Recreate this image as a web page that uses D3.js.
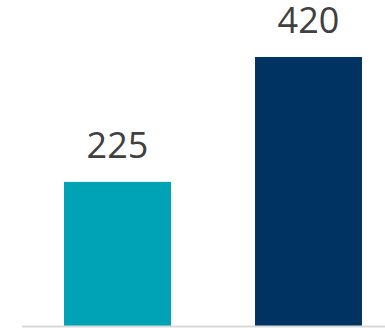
<!DOCTYPE html>
<html>
<head>
<meta charset="utf-8">
<script src="https://cdn.jsdelivr.net/npm/d3@7"></script>
<style>
  html, body { margin: 0; padding: 0; background: #fff; }
  svg { display: block; }
</style>
</head>
<body>
<svg id="chart" width="385" height="328"></svg>
<script>
// Values shown on the two bars
const categories = ["A", "B"];
const values = [225, 420];
const colors = ["#00A3B5", "#003361"];

const svg = d3.select("#chart");
const baseY = 326;

const x = d3.scaleBand()
  .domain(categories)
  .range([22, 404])
  .paddingInner(0.44)
  .paddingOuter(0.22);

const y = d3.scaleLinear()
  .domain([0, 420])
  .range([baseY, 57]);

svg.selectAll("rect.bar")
  .data(values)
  .join("rect")
  .attr("class", "bar")
  .attr("x", (d, i) => x(categories[i]))
  .attr("y", d => y(d))
  .attr("width", x.bandwidth())
  .attr("height", d => baseY - y(d))
  .attr("fill", (d, i) => colors[i]);

// Baseline
svg.append("line")
  .attr("x1", 22).attr("x2", 385)
  .attr("y1", baseY + 0.5).attr("y2", baseY + 0.5)
  .attr("stroke", "#d9d9d9")
  .attr("stroke-width", 2);

svg.selectAll("text.value")
  .data(values)
  .join("text")
  .attr("class", "value")
  .attr("x", (d, i) => x(categories[i]) + x.bandwidth() / 2)
  .attr("y", d => y(d) - 24)
  .attr("text-anchor", "middle")
  .attr("font-family", "'Open Sans', sans-serif")
  .attr("font-size", 36)
  .attr("fill", "#404040")
  .text(d => d);
</script>
</body>
</html>
